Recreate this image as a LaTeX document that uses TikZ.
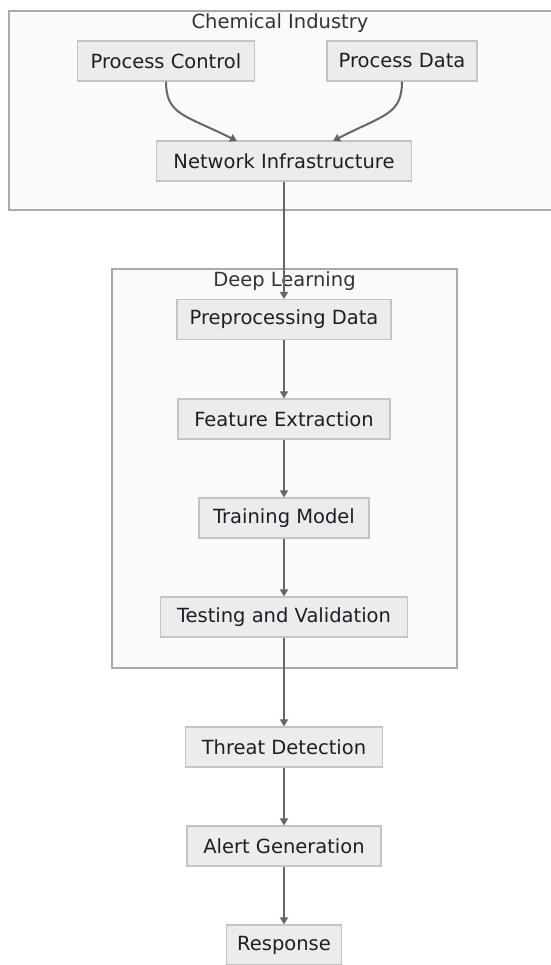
\documentclass[tikz,border=0pt]{standalone}
\usepackage{fontspec}
\setmainfont{DejaVu Sans}
\usetikzlibrary{arrows.meta}
\definecolor{nodefill}{HTML}{ECECEC}
\definecolor{nodeline}{HTML}{C4C4C4}
\definecolor{clusterfill}{HTML}{FAFAFA}
\definecolor{clusterline}{HTML}{AAAAAA}
\definecolor{edgecol}{HTML}{666666}
\definecolor{txt}{HTML}{1E1E2A}
\definecolor{titletxt}{HTML}{333333}
\tikzset{
  x=1pt, y=-1pt,
  box/.style={draw=nodeline, fill=nodefill, line width=1.2pt, minimum height=40pt,
    inner xsep=2pt, inner ysep=0pt, font=\fontsize{19.5}{22}\selectfont, text=txt},
  cluster/.style={draw=clusterline, fill=clusterfill, line width=1.4pt},
  ctitle/.style={font=\fontsize{19.5}{22}\selectfont, text=titletxt, inner sep=0pt},
  edge/.style={draw=edgecol, line width=2pt, -{Triangle[length=7pt,width=8pt]}}
}
\begin{document}
\begin{tikzpicture}
\useasboundingbox (0,0) rectangle (550,965);
\fill[white] (0,0) rectangle (550,965);
% clusters
\draw[cluster] (9,11) rectangle (554,210);
\node[ctitle] (chemtitle) at (280,23) {Chemical Industry};
\draw[cluster] (112,269) rectangle (457,668);
\node[ctitle] (dltitle) at (284.5,281) {Deep Learning};
% nodes
\node[box, minimum width=177pt] (pc) at (166,61) {Process Control};
\node[box, minimum width=150pt] (pd) at (402,61) {Process Data};
\node[box, minimum width=255pt] (ni) at (284,161) {Network Infrastructure};
\node[box, minimum width=214pt] (pre) at (284,319.5) {Preprocessing Data};
\node[box, minimum width=212pt] (fe) at (284,419) {Feature Extraction};
\node[box, minimum width=170pt] (tm) at (284,518) {Training Model};
\node[box, minimum width=247pt] (tv) at (284,617) {Testing and Validation};
\node[box, minimum width=197pt] (td) at (284,747) {Threat Detection};
\node[box, minimum width=194pt] (ag) at (284,846) {Alert Generation};
\node[box, minimum width=115pt] (resp) at (284,945) {Response};
% coordinates for curved arrow ends
\coordinate (nil) at (237,141);
\coordinate (nir) at (333,141);
% edges
\draw[edge] (pc.south) .. controls (166,115) and (185,115) .. (nil);
\draw[edge] (pd.south) .. controls (402,115) and (383,115) .. (nir);
\draw[edge] (ni.south) -- (pre.north);
\draw[edge] (pre.south) -- (fe.north);
\draw[edge] (fe.south) -- (tm.north);
\draw[edge] (tm.south) -- (tv.north);
\draw[edge] (tv.south) -- (td.north);
\draw[edge] (td.south) -- (ag.north);
\draw[edge] (ag.south) -- (resp.north);
\end{tikzpicture}
\end{document}
